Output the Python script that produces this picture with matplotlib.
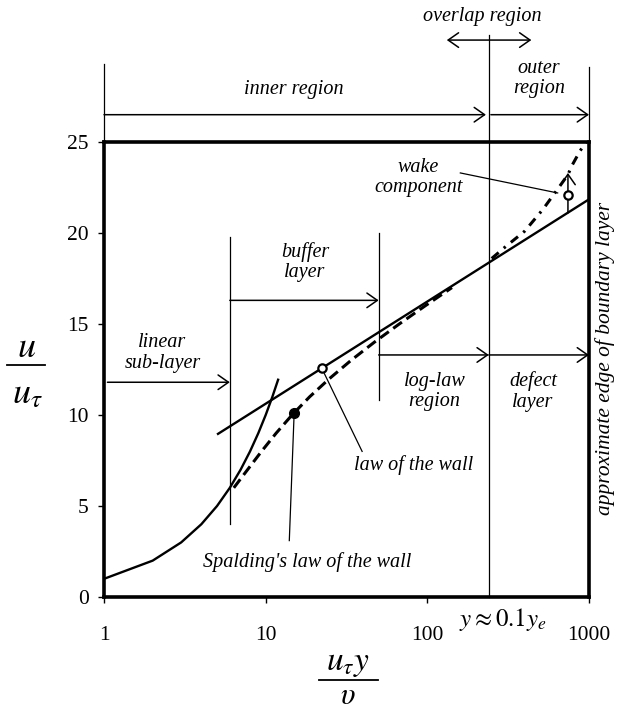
import matplotlib
matplotlib.use("Agg")
import matplotlib.pyplot as plt
from matplotlib.lines import Line2D

# --- Data ---
# linear sub-layer u+ = y+
lin_y = [1, 2, 3, 4, 5, 6, 7, 8, 9, 10, 11, 12]
lin_u = [1, 2, 3, 4, 5, 6, 7, 8, 9, 10, 11, 12]

# log law line
log_y = [5, 1000]
log_u = [8.93, 21.85]

# Spalding's law of the wall (dashed)
spal_y = [6.35, 7.73, 9.42, 11.6, 14.55, 18.7, 24.8, 33.7, 47, 67, 97, 142]
spal_u = [6.0, 7.0, 8.0, 9.0, 10.0, 11.0, 12.0, 13.0, 14.0, 15.0, 16.0, 17.0]

# wake component (dash-dot)
wake_y = [250, 300, 400, 519, 615, 741, 784, 879, 960]
wake_u = [18.6, 19.2, 20.1, 21.3, 22.2, 23.2, 23.7, 24.5, 25.0]

# markers
wall_pt = (22.2, 12.57)
spal_pt = (15.0, 10.1)
wake_pt = (741, 22.1)

x_ticks = [1, 10, 100, 1000]
y_ticks = [0, 5, 10, 15, 20, 25]

# region boundaries
y_sub = 6
y_buf = 50
y_ovl = 240

SERIF = "Liberation Serif"
plt.rcParams["font.family"] = SERIF
plt.rcParams["mathtext.fontset"] = "stix"

fig = plt.figure(figsize=(6.17, 7.15), dpi=100)
ax = fig.add_axes([0.1686, 0.165, 0.786, 0.6364])
ax.set_xscale("log")
ax.set_xlim(1, 1000)
ax.set_ylim(0, 25)

for s in ax.spines.values():
    s.set_linewidth(2.6)

ax.set_xticks(x_ticks)
ax.set_xticklabels([str(t) for t in x_ticks])
ax.set_yticks(y_ticks)
ax.minorticks_off()
ax.tick_params(axis="both", direction="out", length=4, width=1, labelsize=15.5)
ax.tick_params(axis="x", pad=17)
ax.tick_params(axis="y", pad=7)

# curves
ax.plot(lin_y, lin_u, color="black", lw=1.7, solid_capstyle="butt")
ax.plot(log_y, log_u, color="black", lw=1.7, solid_capstyle="butt")
ax.plot(spal_y, spal_u, color="black", lw=2.2, dashes=(3.5, 1.8))
ax.plot(wake_y, wake_u, color="black", lw=2.2, dashes=(3, 2.2, 0.8, 2.2))

ax.plot(*wall_pt, "o", ms=6, mfc="white", mec="black", mew=1.6, zorder=5)
ax.plot(*spal_pt, "o", ms=7, color="black", zorder=5)
ax.plot(*wake_pt, "o", ms=6, mfc="white", mec="black", mew=1.6, zorder=5)

thin = dict(color="black", lw=0.9, clip_on=False)
arrow = dict(arrowstyle="->,head_length=0.5,head_width=0.35", lw=1.1,
             color="black", mutation_scale=15, shrinkA=0, shrinkB=0)

def harrow(x0, x1, y):
    ax.annotate("", xy=(x1, y), xytext=(x0, y), xycoords="data",
                arrowprops=arrow, annotation_clip=False)

# vertical boundary lines inside plot
ax.plot([y_sub, y_sub], [4.0, 19.8], **thin)
ax.plot([y_buf, y_buf], [10.8, 20.0], **thin)
ax.plot([y_ovl, y_ovl], [0, 30.9], **thin)
ax.plot([1, 1], [25, 29.3], **thin)
ax.plot([1000, 1000], [25, 29.1], **thin)

# region arrows
harrow(1.05, y_sub, 11.8)
harrow(y_sub, y_buf, 16.3)
harrow(y_buf, y_ovl, 13.3)
harrow(y_ovl, 1000, 13.3)
harrow(1, y_ovl * 0.96, 26.5)
harrow(y_ovl * 1.03, 1000, 26.5)
ax.annotate("", xy=(440, 30.6), xytext=(132, 30.6), xycoords="data",
            arrowprops=dict(arrow, arrowstyle="<->,head_length=0.5,head_width=0.35"),
            annotation_clip=False)

# wake arrow
ax.annotate("", xy=(741, 23.3), xytext=(741, 21.1), xycoords="data",
            arrowprops=arrow, annotation_clip=False)

tkw = dict(style="italic", fontsize=14.5, ha="center", va="center", clip_on=False,
           linespacing=1.1)
ax.text(2.3, 13.4, "linear\nsub-layer", **tkw)
ax.text(17.5, 18.4, "buffer\nlayer", **tkw)
ax.text(111, 11.3, "log-law\nregion", **tkw)
ax.text(450, 11.3, "defect\nlayer", **tkw)
ax.text(14.9, 27.9, "inner region", **tkw)
ax.text(492, 28.5, "outer\nregion", **tkw)
ax.text(219, 31.9, "overlap region", **tkw)
ax.text(88, 23.05, "wake\ncomponent", **tkw)
ax.text(82, 7.25, "law of the wall", **tkw)
ax.text(18.1, 1.94, "Spalding's law of the wall", **tkw)
ax.text(1265, 13.1, "approximate edge of boundary layer", rotation=90,
        **dict(tkw, fontsize=15.5))

# leader lines
ax.plot([wall_pt[0] * 1.04, 39.5], [wall_pt[1] - 0.3, 8.0], **thin)
ax.plot([spal_pt[0], 14.0], [spal_pt[1], 3.1], **thin)
ax.plot([160, 640], [23.3, 22.2], **thin)

# y ~ 0.1 y_e label
ax.text(158, -1.25, r"$y \approx 0.1y_e$", fontsize=18, ha="left", va="center",
        clip_on=False)

# axis labels as stacked fractions
fig.text(348 / 617, 1 - 670 / 715, r"$u_{\tau}y$", fontsize=24, ha="center",
         va="baseline")
fig.add_artist(Line2D([319 / 617, 378 / 617], [1 - 680 / 715, 1 - 680 / 715],
                      color="black", lw=1.3))
fig.text(348 / 617, 1 - 704 / 715, r"$\upsilon$", fontsize=22, ha="center",
         va="baseline")

fig.text(27 / 617, 1 - 357 / 715, r"$u$", fontsize=26, ha="center", va="baseline")
fig.add_artist(Line2D([7 / 617, 45 / 617], [1 - 365 / 715, 1 - 365 / 715],
                      color="black", lw=1.3))
fig.text(27 / 617, 1 - 403 / 715, r"$u_{\tau}$", fontsize=26, ha="center",
         va="baseline")

fig.savefig("out.png", dpi=100)
